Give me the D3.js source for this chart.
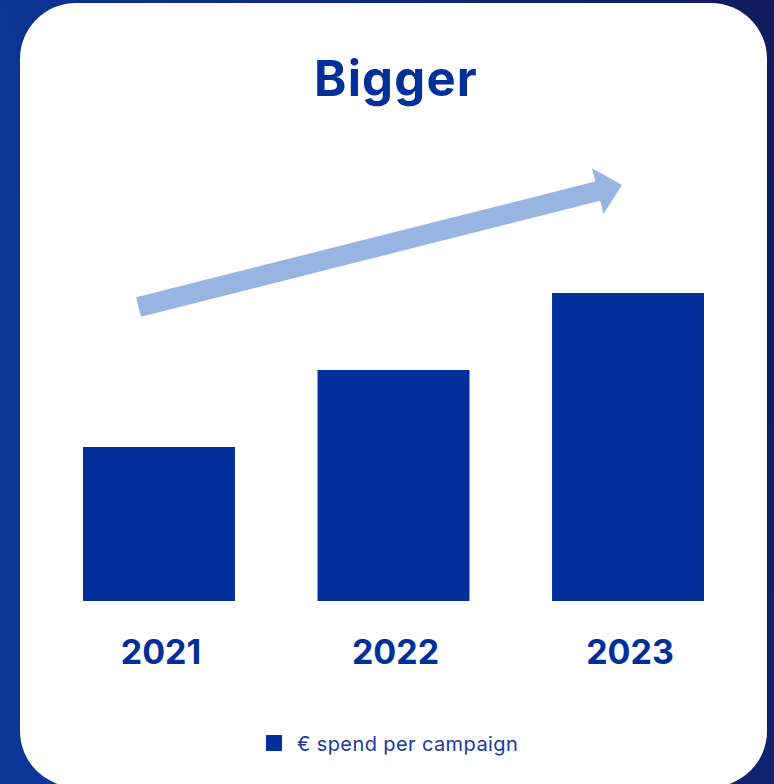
<!DOCTYPE html>
<html>
<head>
<meta charset="utf-8">
<script src="https://cdn.jsdelivr.net/npm/d3@7"></script>
<style>
  html, body { margin: 0; padding: 0; background: #0c2a86; }
  svg { display: block; }
</style>
</head>
<body>
<svg id="chart" width="774" height="784"></svg>
<script>
// Campaign spend, indexed to 2021
const years = ["2021", "2022", "2023"];
const spendIndex = [1.0, 1.5, 2.0];
const titleText = "Bigger";
const legendLabel = "€ spend per campaign";

const W = 774, H = 784;
const svg = d3.select("#chart");

// Background gradient behind the card
const defs = svg.append("defs");
const bg = defs.append("linearGradient").attr("id", "bg")
  .attr("x1", "0%").attr("y1", "30%").attr("x2", "100%").attr("y2", "0%");
bg.append("stop").attr("offset", "0%").attr("stop-color", "#0b3698");
bg.append("stop").attr("offset", "100%").attr("stop-color", "#0f1b5c");
svg.append("rect").attr("width", W).attr("height", H).attr("fill", "url(#bg)");

// White card
svg.append("rect")
  .attr("x", 20).attr("y", 3).attr("width", 747).attr("height", 784)
  .attr("rx", 56).attr("ry", 56).attr("fill", "#ffffff");

const blue = "#022f9a";
const font = "Inter, 'Open Sans', sans-serif";

// Title
svg.append("text")
  .attr("x", 396).attr("y", 96)
  .attr("text-anchor", "middle")
  .attr("font-family", font).attr("font-weight", 700)
  .attr("font-size", 49).attr("letter-spacing", 1.2).attr("fill", blue)
  .text(titleText);

// Scales
const x = d3.scaleBand().domain(years).range([83, 704]).paddingInner(0.352).paddingOuter(0);
const y = d3.scaleLinear().domain([0, 2]).range([601, 293]);

// Bars
svg.append("g").selectAll("rect")
  .data(years.map((yr, i) => ({ yr, v: spendIndex[i] })))
  .join("rect")
  .attr("x", d => x(d.yr))
  .attr("y", d => y(d.v))
  .attr("width", x.bandwidth())
  .attr("height", d => y(0) - y(d.v))
  .attr("fill", blue);

// Category axis (labels only)
const xAxis = svg.append("g")
  .attr("transform", `translate(0, ${y(0)})`)
  .call(d3.axisBottom(x).tickSize(0).tickPadding(39));
xAxis.select(".domain").remove();
xAxis.selectAll("text")
  .attr("font-family", font).attr("font-weight", 700)
  .attr("font-size", 34).attr("fill", blue)
  .attr("dx", 2);

// Trend arrow
const ax0 = 138.5, ay0 = 307, ax1 = 622, ay1 = 185;
const ang = Math.atan2(ay1 - ay0, ax1 - ax0) * 180 / Math.PI;
const len = Math.hypot(ax1 - ax0, ay1 - ay0);
const headLen = 25, headW = 47, shaftW = 20;
const arrowPts = [
  [0, -shaftW / 2], [len - headLen, -shaftW / 2], [len - headLen, -headW / 2],
  [len, 0], [len - headLen, headW / 2], [len - headLen, shaftW / 2], [0, shaftW / 2]
];
svg.append("path")
  .attr("transform", `translate(${ax0},${ay0}) rotate(${ang})`)
  .attr("d", d3.line()(arrowPts) + "Z")
  .attr("fill", "#98b5e2");

// Legend
const lg = svg.append("g").attr("transform", "translate(266, 735)");
lg.append("rect").attr("width", 16).attr("height", 16).attr("fill", blue);
lg.append("text")
  .attr("x", 31).attr("y", 16)
  .attr("font-family", font).attr("font-size", 20).attr("letter-spacing", 0.4)
  .attr("fill", "#1a3a9e")
  .text(legendLabel);
</script>
</body>
</html>
